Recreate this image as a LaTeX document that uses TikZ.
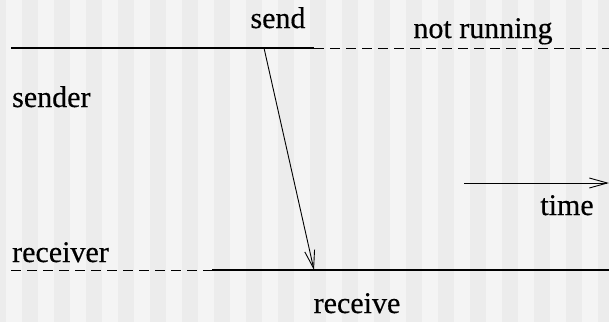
\documentclass[tikz,border=0pt]{standalone}
\usepackage{fontspec}
\setmainfont{Liberation Serif}
\newfontfamily\lblfont[FakeBold=0.4]{Liberation Serif}
\usetikzlibrary{arrows.meta,positioning}
\definecolor{stripelt}{RGB}{244,244,244}
\definecolor{stripedk}{RGB}{236,236,236}

\begin{document}
\begin{tikzpicture}[x=1pt,y=-1pt,>={Straight Barb[length=18pt,width=10pt]},
  every node/.style={font=\lblfont\fontsize{30}{32}\selectfont,inner sep=0pt},
  alive/.style={line width=2pt},
  idle/.style={line width=0.9pt,dash pattern=on 10pt off 6pt}]
\useasboundingbox (0,0) rectangle (609,322);
\fill[stripelt] (0,0) rectangle (609,322);
\foreach \k in {0,...,19} \fill[stripedk] ({-10+32*\k},0) rectangle ({6+32*\k},322);
% time lines
\coordinate (s0) at (11,48); \coordinate (s1) at (314,48); \coordinate (s2) at (609,48);
\coordinate (r0) at (11,270); \coordinate (r1) at (212,270); \coordinate (r2) at (609,270);
\draw[alive] (s0)--(s1); \draw[idle] (s1)--(s2);
\draw[idle] (r0)--(r1); \draw[alive] (r1)--(r2);
% message
\coordinate (msgout) at (264,48); \coordinate (msgin) at (314,270);
\draw[->,line width=0.9pt] (msgout)--(msgin);
% labels
\node[anchor=base] (sendlbl) at (278,28) {send};
\node[anchor=base] (notrun) at (483,38) {not running};
\node[anchor=base west] (sender) at (12,107) {sender};
\node[anchor=base west] (receiver) at (12,262) {receiver};
\node[anchor=base] (recvlbl) at (357,313) {receive};
% time axis
\coordinate (t0) at (464,183); \coordinate (t1) at (609,183);
\draw[->,line width=0.9pt] (t0)--(t1);
\node[anchor=base] (timelbl) at (567,215) {time};
\end{tikzpicture}
\end{document}
